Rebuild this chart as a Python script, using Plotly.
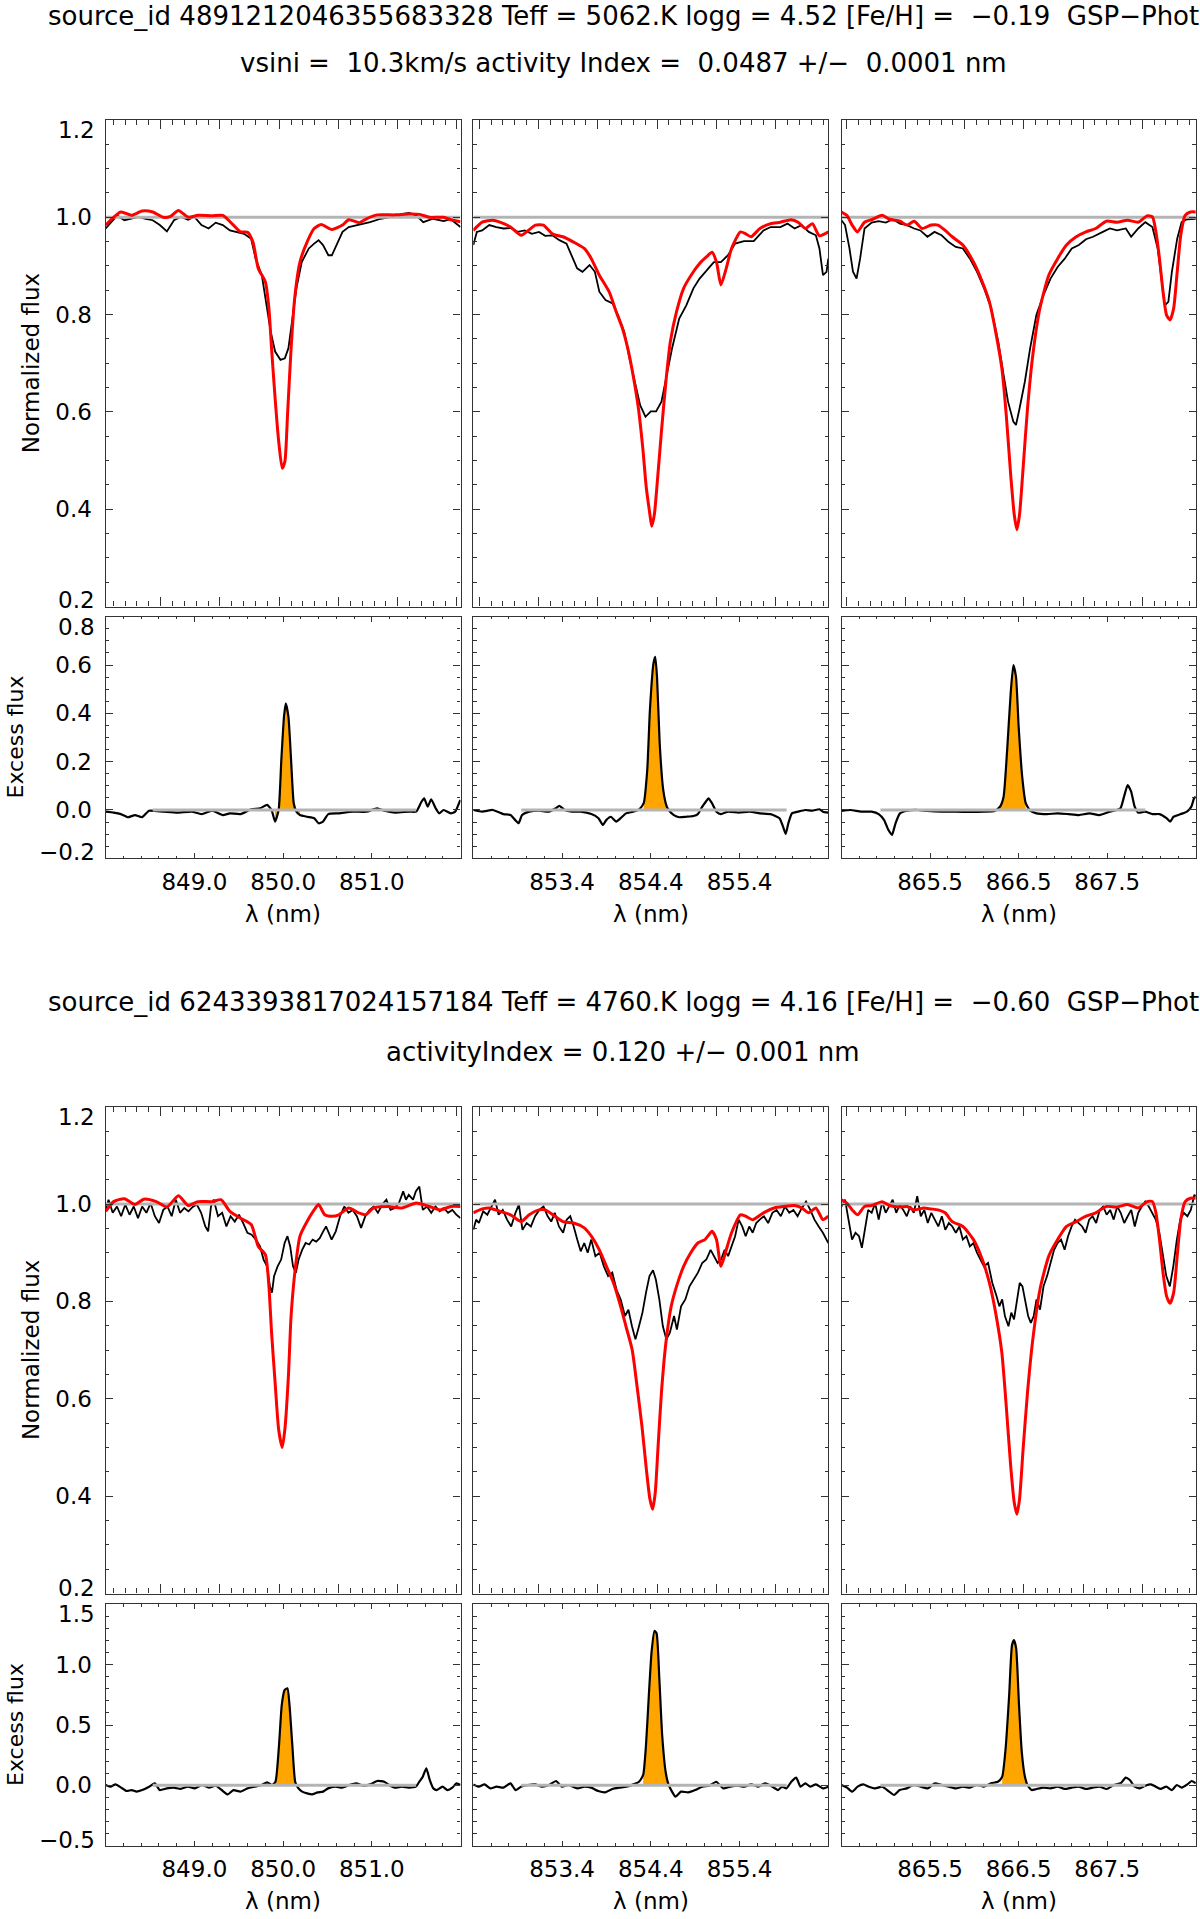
import plotly.graph_objects as go

# ------------------------------------------------------------------ headers
top_title = "source_id 4891212046355683328 Teff = 5062.K logg = 4.52 [Fe/H] =  −0.19  GSP−Phot"
top_subtitle = "vsini =  10.3km/s activity Index =  0.0487 +/−  0.0001 nm"
bot_title = "source_id 6243393817024157184 Teff = 4760.K logg = 4.16 [Fe/H] =  −0.60  GSP−Phot"
bot_subtitle = "activityIndex = 0.120 +/− 0.001 nm"

# ------------------------------------------------------------------ axes data
line_ranges = [[848.0, 852.0], [852.4, 856.4], [864.5, 868.5]]
line_ticks = [[849.0, 850.0, 851.0], [853.4, 854.4, 855.4], [865.5, 866.5, 867.5]]
flux_tick0 = [847.952, 852.467, 864.556]
flux_dtick = 0.668
core_windows = [[849.88, 850.19], [854.30, 854.60], [866.28, 866.60]]
zero_windows = [[848.53, 851.50], [852.94, 855.93], [864.94, 867.93]]
flux_range = [0.2, 1.2]
flux_ticks = [0.2, 0.4, 0.6, 0.8, 1.0, 1.2]
top_exc_range = [-0.2, 0.8]
top_exc_ticks = [-0.2, 0.0, 0.2, 0.4, 0.6, 0.8]
bot_exc_range = [-0.5, 1.5]
bot_exc_ticks = [-0.5, 0.0, 0.5, 1.0, 1.5]

# ------------------------------------------------------------------ star 1 (top)
top_850_model_wl = [848.00, 848.17, 848.29, 848.41, 848.53, 848.65, 848.73, 848.82, 848.93, 849.04,
                    849.20, 849.32, 849.44, 849.52, 849.60, 849.66, 849.72, 849.80, 849.84, 849.87,
                    849.91, 849.95, 849.99, 850.02, 850.05, 850.09, 850.13, 850.19, 850.27, 850.35,
                    850.43, 850.55, 850.67, 850.74, 850.86, 850.94, 851.06, 851.26, 851.42, 851.54,
                    851.65, 851.81, 851.89, 852.00]
top_850_model = [0.984, 1.011, 1.004, 1.013, 1.011, 1.000, 1.002, 1.014, 1.000, 1.004,
                 1.003, 1.004, 0.984, 0.970, 0.969, 0.949, 0.895, 0.867, 0.813, 0.730,
                 0.628, 0.540, 0.484, 0.498, 0.594, 0.730, 0.833, 0.908, 0.949, 0.977,
                 0.985, 0.975, 0.984, 0.995, 0.989, 0.997, 1.005, 1.005, 1.007, 1.006,
                 1.000, 1.000, 0.995, 0.991]
top_850_obs_wl = [848.00, 848.06, 848.13, 848.21, 848.29, 848.37, 848.45, 848.53, 848.61, 848.69,
                  848.77, 848.85, 848.93, 849.00, 849.08, 849.16, 849.24, 849.32, 849.40, 849.48,
                  849.56, 849.64, 849.69, 849.76, 849.81, 849.86, 849.91, 849.97, 850.02, 850.06,
                  850.10, 850.15, 850.21, 850.29, 850.35, 850.40, 850.45, 850.51, 850.55, 850.60,
                  850.67, 850.74, 850.86, 850.98, 851.10, 851.22, 851.35, 851.42, 851.50, 851.58,
                  851.69, 851.81, 851.89, 851.95, 852.00]
top_850_obs = [0.977, 0.990, 1.004, 0.994, 0.997, 1.001, 0.997, 0.994, 0.984, 0.971,
               0.994, 1.001, 0.995, 1.001, 0.984, 0.977, 0.989, 0.984, 0.973, 0.970,
               0.966, 0.956, 0.915, 0.881, 0.819, 0.765, 0.724, 0.707, 0.710, 0.731,
               0.785, 0.854, 0.908, 0.936, 0.946, 0.953, 0.943, 0.922, 0.922, 0.943,
               0.970, 0.980, 0.985, 0.990, 0.997, 1.001, 1.007, 1.009, 1.004, 0.990,
               0.997, 0.992, 0.996, 0.987, 0.980]
top_850_exc_wl = [848.00, 848.09, 848.17, 848.25, 848.33, 848.41, 848.49, 848.65, 848.81, 848.97,
                  849.08, 849.20, 849.32, 849.40, 849.52, 849.64, 849.74, 849.82, 849.87, 849.91,
                  849.95, 849.98, 850.01, 850.03, 850.06, 850.09, 850.12, 850.15, 850.19, 850.27,
                  850.35, 850.40, 850.45, 850.51, 850.63, 850.78, 850.94, 851.06, 851.14, 851.26,
                  851.42, 851.50, 851.56, 851.59, 851.63, 851.67, 851.72, 851.76, 851.81, 851.89,
                  851.94, 851.99, 852.00]
top_850_exc = [-0.007, -0.011, -0.017, -0.030, -0.021, -0.030, -0.003, -0.007, -0.011, -0.007,
               -0.017, -0.003, -0.021, -0.014, -0.017, 0.003, 0.007, 0.021, 0.000, -0.048,
               0.000, 0.207, 0.386, 0.441, 0.386, 0.207, 0.028, -0.007, -0.021, -0.028,
               -0.034, -0.055, -0.048, -0.017, -0.014, -0.007, -0.007, 0.007, -0.003, -0.011,
               -0.007, -0.007, 0.034, 0.048, 0.014, 0.044, 0.007, -0.014, 0.000, -0.014,
               -0.007, 0.034, 0.041]

top_854_model_wl = [852.40, 852.50, 852.62, 852.70, 852.82, 852.94, 853.02, 853.10, 853.19, 853.29,
                    853.41, 853.53, 853.65, 853.73, 853.82, 853.93, 854.01, 854.08, 854.14, 854.20,
                    854.26, 854.31, 854.35, 854.39, 854.41, 854.44, 854.48, 854.52, 854.57, 854.62,
                    854.69, 854.77, 854.88, 854.95, 855.03, 855.09, 855.14, 855.19, 855.25, 855.31,
                    855.41, 855.47, 855.53, 855.63, 855.75, 855.86, 855.98, 856.06, 856.14, 856.22,
                    856.30, 856.40]
top_854_model = [0.973, 0.990, 0.994, 0.990, 0.980, 0.963, 0.973, 0.984, 0.984, 0.966,
                 0.960, 0.949, 0.936, 0.915, 0.881, 0.847, 0.806, 0.772, 0.731, 0.676,
                 0.608, 0.525, 0.443, 0.389, 0.365, 0.389, 0.471, 0.560, 0.662, 0.744,
                 0.806, 0.854, 0.888, 0.905, 0.919, 0.928, 0.908, 0.861, 0.895, 0.936,
                 0.970, 0.966, 0.960, 0.977, 0.987, 0.990, 0.995, 0.990, 0.977, 0.987,
                 0.962, 0.970]
top_854_obs_wl = [852.40, 852.44, 852.50, 852.58, 852.66, 852.74, 852.82, 852.90, 852.98, 853.06,
                  853.14, 853.21, 853.29, 853.37, 853.45, 853.51, 853.57, 853.63, 853.71, 853.77,
                  853.82, 853.89, 853.97, 854.03, 854.10, 854.16, 854.22, 854.28, 854.34, 854.40,
                  854.46, 854.52, 854.58, 854.64, 854.72, 854.80, 854.88, 854.95, 855.03, 855.11,
                  855.19, 855.27, 855.35, 855.45, 855.56, 855.67, 855.75, 855.86, 855.94, 856.02,
                  856.10, 856.18, 856.26, 856.30, 856.34, 856.38, 856.40]
top_854_obs = [0.943, 0.970, 0.973, 0.984, 0.980, 0.977, 0.978, 0.970, 0.973, 0.966,
               0.970, 0.962, 0.963, 0.953, 0.946, 0.922, 0.895, 0.888, 0.902, 0.888,
               0.847, 0.830, 0.823, 0.799, 0.765, 0.710, 0.662, 0.614, 0.590, 0.601,
               0.601, 0.621, 0.676, 0.731, 0.792, 0.819, 0.854, 0.874, 0.891, 0.908,
               0.908, 0.922, 0.946, 0.951, 0.951, 0.973, 0.980, 0.980, 0.987, 0.977,
               0.984, 0.970, 0.963, 0.936, 0.881, 0.888, 0.915]
top_854_exc_wl = [852.40, 852.50, 852.62, 852.74, 852.82, 852.87, 852.91, 852.95, 853.03, 853.14,
                  853.25, 853.33, 853.37, 853.43, 853.51, 853.61, 853.73, 853.81, 853.86, 853.90,
                  853.95, 854.01, 854.06, 854.12, 854.20, 854.27, 854.32, 854.36, 854.39, 854.43,
                  854.45, 854.47, 854.50, 854.54, 854.58, 854.61, 854.66, 854.72, 854.80, 854.88,
                  854.93, 854.98, 855.02, 855.05, 855.09, 855.14, 855.19, 855.27, 855.39, 855.51,
                  855.63, 855.75, 855.85, 855.89, 855.92, 855.95, 855.99, 856.06, 856.14, 856.22,
                  856.30, 856.34, 856.40]
top_854_exc = [0.000, -0.007, 0.000, -0.017, -0.021, -0.041, -0.055, -0.021, -0.007, -0.003,
               -0.007, 0.007, 0.017, 0.000, -0.007, -0.007, -0.017, -0.034, -0.062, -0.041,
               -0.028, -0.048, -0.034, -0.014, -0.007, 0.003, 0.028, 0.166, 0.414, 0.607,
               0.634, 0.552, 0.276, 0.083, 0.014, -0.004, -0.021, -0.030, -0.028, -0.025,
               -0.017, 0.014, 0.034, 0.048, 0.028, -0.007, -0.017, -0.007, -0.011, -0.007,
               -0.014, -0.017, -0.034, -0.069, -0.099, -0.055, -0.014, -0.007, 0.000, -0.003,
               0.003, -0.007, -0.011]

top_866_model_wl = [864.50, 864.56, 864.62, 864.68, 864.76, 864.84, 864.96, 865.04, 865.16, 865.24,
                    865.32, 865.41, 865.51, 865.59, 865.67, 865.75, 865.87, 865.99, 866.09, 866.17,
                    866.24, 866.31, 866.36, 866.41, 866.45, 866.48, 866.51, 866.55, 866.60, 866.66,
                    866.74, 866.84, 866.94, 867.04, 867.15, 867.26, 867.37, 867.49, 867.61, 867.73,
                    867.85, 867.95, 868.01, 868.05, 868.09, 868.13, 868.17, 868.21, 868.25, 868.29,
                    868.33, 868.38, 868.44, 868.50]
top_866_model = [1.011, 1.004, 0.984, 0.970, 0.990, 0.995, 1.004, 0.996, 0.992, 0.984,
                 0.992, 0.977, 0.984, 0.984, 0.973, 0.960, 0.943, 0.908, 0.867, 0.826,
                 0.765, 0.690, 0.594, 0.471, 0.389, 0.358, 0.389, 0.484, 0.607, 0.717,
                 0.813, 0.881, 0.915, 0.943, 0.960, 0.970, 0.977, 0.992, 0.990, 0.994,
                 0.990, 1.003, 1.001, 0.970, 0.915, 0.847, 0.799, 0.789, 0.813, 0.888,
                 0.963, 1.004, 1.011, 1.011]
top_866_obs_wl = [864.50, 864.54, 864.59, 864.63, 864.67, 864.71, 864.76, 864.84, 864.92, 865.00,
                  865.08, 865.16, 865.24, 865.32, 865.39, 865.47, 865.55, 865.63, 865.71, 865.79,
                  865.87, 865.95, 866.03, 866.11, 866.19, 866.27, 866.33, 866.38, 866.44, 866.47,
                  866.51, 866.57, 866.63, 866.70, 866.78, 866.86, 866.94, 867.02, 867.10, 867.18,
                  867.26, 867.34, 867.45, 867.53, 867.61, 867.71, 867.77, 867.85, 867.93, 868.01,
                  868.07, 868.12, 868.15, 868.19, 868.23, 868.29, 868.34, 868.40, 868.50]
top_866_obs = [0.994, 0.984, 0.936, 0.888, 0.874, 0.915, 0.977, 0.989, 0.992, 0.989,
               0.996, 0.987, 0.984, 0.977, 0.973, 0.960, 0.970, 0.963, 0.949, 0.939,
               0.936, 0.915, 0.888, 0.854, 0.813, 0.744, 0.676, 0.621, 0.580, 0.573,
               0.607, 0.662, 0.731, 0.799, 0.840, 0.874, 0.898, 0.915, 0.936, 0.943,
               0.955, 0.960, 0.970, 0.977, 0.973, 0.977, 0.960, 0.977, 0.990, 0.980,
               0.936, 0.867, 0.819, 0.826, 0.888, 0.956, 0.990, 0.996, 0.997]
top_866_exc_wl = [864.50, 864.60, 864.72, 864.84, 864.92, 864.98, 865.03, 865.07, 865.11, 865.16,
                  865.24, 865.36, 865.47, 865.63, 865.79, 865.95, 866.11, 866.23, 866.29, 866.33,
                  866.37, 866.41, 866.44, 866.47, 866.50, 866.54, 866.58, 866.63, 866.70, 866.82,
                  866.94, 867.06, 867.18, 867.30, 867.41, 867.53, 867.61, 867.65, 867.69, 867.73,
                  867.77, 867.81, 867.85, 867.93, 868.01, 868.09, 868.17, 868.21, 868.25, 868.33,
                  868.40, 868.45, 868.48, 868.50]
top_866_exc = [-0.004, 0.000, -0.007, -0.007, -0.017, -0.041, -0.083, -0.103, -0.055, -0.014,
               -0.003, 0.000, -0.004, -0.007, -0.007, -0.008, -0.007, -0.004, 0.014, 0.055,
               0.248, 0.483, 0.600, 0.552, 0.345, 0.138, 0.028, -0.003, -0.014, -0.017,
               -0.014, -0.017, -0.021, -0.014, -0.021, -0.007, 0.000, 0.007, 0.055, 0.103,
               0.076, 0.014, -0.011, -0.007, -0.017, -0.017, -0.034, -0.048, -0.028, -0.017,
               -0.007, 0.014, 0.048, 0.055]

# ------------------------------------------------------------------ star 2 (bottom)
bot_850_model_wl = [848.00, 848.09, 848.21, 848.33, 848.43, 848.57, 848.69, 848.82, 848.93, 849.04,
                    849.20, 849.30, 849.40, 849.52, 849.64, 849.72, 849.80, 849.84, 849.87, 849.91,
                    849.95, 849.99, 850.02, 850.06, 850.09, 850.14, 850.19, 850.27, 850.35, 850.40,
                    850.47, 850.55, 850.63, 850.74, 850.85, 850.93, 851.02, 851.18, 851.34, 851.50,
                    851.65, 851.77, 851.89, 852.00]
bot_850_model = [0.985, 1.005, 1.011, 0.999, 1.010, 1.005, 0.994, 1.017, 0.997, 1.005,
                 1.005, 1.009, 0.985, 0.971, 0.958, 0.913, 0.896, 0.831, 0.736, 0.633,
                 0.537, 0.500, 0.537, 0.647, 0.770, 0.872, 0.934, 0.964, 0.988, 0.999,
                 0.978, 0.975, 0.978, 0.992, 0.982, 0.978, 0.992, 0.995, 0.992, 1.002,
                 0.995, 0.988, 0.995, 0.995]
bot_850_obs_wl = [848.000, 848.032, 848.079, 848.127, 848.174, 848.221, 848.269, 848.316, 848.364, 848.411,
                  848.459, 848.506, 848.554, 848.601, 848.649, 848.696, 848.744, 848.791, 848.838, 848.886,
                  848.933, 848.981, 849.028, 849.076, 849.123, 849.155, 849.187, 849.218, 849.266, 849.313,
                  849.361, 849.408, 849.455, 849.503, 849.550, 849.598, 849.645, 849.693, 849.740, 849.780,
                  849.819, 849.851, 849.875, 849.898, 849.938, 849.978, 850.017, 850.049, 850.080, 850.112,
                  850.144, 850.175, 850.215, 850.254, 850.294, 850.333, 850.373, 850.413, 850.452, 850.484,
                  850.515, 850.547, 850.594, 850.642, 850.689, 850.737, 850.784, 850.832, 850.879, 850.927,
                  850.974, 851.022, 851.069, 851.117, 851.164, 851.211, 851.259, 851.306, 851.354, 851.385,
                  851.417, 851.465, 851.496, 851.536, 851.575, 851.623, 851.670, 851.718, 851.765, 851.813,
                  851.860, 851.908, 851.955, 852.000]
bot_850_obs = [0.988, 1.009, 0.982, 0.995, 0.975, 0.999, 0.978, 0.995, 0.971, 0.995,
               0.982, 1.002, 0.975, 0.961, 0.988, 0.995, 0.975, 1.009, 0.982, 0.992,
               0.985, 0.994, 0.999, 0.982, 0.954, 0.944, 0.995, 1.009, 0.975, 0.982,
               0.954, 0.975, 0.964, 0.978, 0.961, 0.941, 0.937, 0.927, 0.913, 0.886,
               0.872, 0.831, 0.818, 0.852, 0.872, 0.886, 0.920, 0.934, 0.913, 0.872,
               0.859, 0.886, 0.906, 0.920, 0.917, 0.927, 0.923, 0.930, 0.944, 0.954,
               0.941, 0.927, 0.944, 0.975, 0.995, 0.982, 0.988, 0.975, 0.951, 0.975,
               0.988, 0.995, 0.982, 0.999, 1.009, 0.988, 0.992, 1.002, 1.026, 1.009,
               1.019, 1.009, 1.026, 1.036, 0.988, 0.995, 0.982, 0.995, 0.985, 0.992,
               0.982, 0.988, 0.978, 0.971]
bot_850_exc_wl = [848.000, 848.055, 848.111, 848.174, 848.237, 848.293, 848.348, 848.411, 848.490, 848.554,
                  848.609, 848.688, 848.767, 848.846, 848.925, 849.005, 849.084, 849.163, 849.242, 849.321,
                  849.376, 849.440, 849.519, 849.598, 849.677, 849.756, 849.819, 849.875, 849.914, 849.954,
                  849.985, 850.017, 850.049, 850.072, 850.104, 850.136, 850.167, 850.215, 850.270, 850.326,
                  850.389, 850.452, 850.507, 850.587, 850.666, 850.745, 850.824, 850.903, 850.982, 851.061,
                  851.140, 851.196, 851.259, 851.338, 851.417, 851.496, 851.536, 851.575, 851.615, 851.654,
                  851.694, 851.734, 851.797, 851.852, 851.908, 851.955, 852.000]
bot_850_exc = [0.003, -0.011, 0.008, -0.019, -0.047, -0.039, -0.052, -0.039, -0.011, 0.017,
               -0.039, -0.025, -0.019, -0.030, -0.011, -0.025, 0.003, -0.019, -0.003, -0.047,
               -0.075, -0.039, -0.052, -0.025, -0.011, 0.003, 0.025, 0.003, 0.030, 0.334,
               0.666, 0.790, 0.804, 0.666, 0.334, 0.030, -0.019, -0.052, -0.066, -0.075,
               -0.058, -0.052, -0.025, -0.011, -0.019, 0.003, 0.017, -0.003, 0.008, 0.036,
               0.030, 0.003, -0.019, -0.011, -0.019, -0.011, 0.030, 0.072, 0.141, 0.044,
               -0.025, -0.039, -0.011, -0.039, -0.019, 0.017, 0.003]

bot_854_model_wl = [852.40, 852.50, 852.58, 852.70, 852.82, 852.94, 853.03, 853.14, 853.21, 853.32,
                    853.41, 853.53, 853.65, 853.73, 853.82, 853.90, 853.98, 854.06, 854.12, 854.19,
                    854.24, 854.30, 854.35, 854.39, 854.42, 854.45, 854.48, 854.52, 854.57, 854.63,
                    854.69, 854.77, 854.85, 854.93, 855.01, 855.09, 855.14, 855.19, 855.25, 855.31,
                    855.41, 855.47, 855.55, 855.67, 855.79, 855.90, 856.02, 856.10, 856.18, 856.26,
                    856.34, 856.40]
bot_854_model = [0.982, 0.990, 0.992, 0.985, 0.978, 0.964, 0.978, 0.988, 0.988, 0.975,
                 0.964, 0.961, 0.951, 0.934, 0.906, 0.872, 0.838, 0.790, 0.749, 0.701,
                 0.633, 0.544, 0.455, 0.394, 0.373, 0.407, 0.496, 0.613, 0.715, 0.790,
                 0.831, 0.872, 0.900, 0.920, 0.927, 0.944, 0.927, 0.872, 0.906, 0.941,
                 0.978, 0.975, 0.968, 0.982, 0.992, 0.995, 0.997, 0.992, 0.982, 0.992,
                 0.968, 0.975]
bot_854_obs_wl = [852.400, 852.432, 852.463, 852.511, 852.558, 852.606, 852.645, 852.685, 852.732, 852.780,
                  852.827, 852.875, 852.914, 852.954, 853.001, 853.049, 853.096, 853.144, 853.191, 853.238,
                  853.278, 853.318, 853.365, 853.412, 853.452, 853.492, 853.531, 853.571, 853.610, 853.650,
                  853.689, 853.729, 853.776, 853.824, 853.871, 853.919, 853.966, 854.014, 854.061, 854.109,
                  854.148, 854.188, 854.227, 854.267, 854.306, 854.346, 854.385, 854.425, 854.457, 854.496,
                  854.536, 854.575, 854.615, 854.662, 854.694, 854.741, 854.789, 854.836, 854.884, 854.931,
                  854.979, 855.026, 855.074, 855.113, 855.153, 855.192, 855.232, 855.271, 855.311, 855.350,
                  855.390, 855.430, 855.469, 855.509, 855.548, 855.588, 855.627, 855.675, 855.722, 855.770,
                  855.817, 855.865, 855.912, 855.960, 856.007, 856.054, 856.102, 856.149, 856.197, 856.244,
                  856.292, 856.339, 856.400]
bot_854_obs = [0.947, 0.968, 0.961, 0.985, 0.978, 0.995, 1.009, 0.978, 0.988, 0.968,
               0.954, 0.982, 0.999, 0.947, 0.961, 0.954, 0.975, 0.988, 0.995, 0.975,
               0.964, 0.982, 0.954, 0.941, 0.968, 0.975, 0.954, 0.927, 0.903, 0.920,
               0.900, 0.927, 0.893, 0.900, 0.872, 0.852, 0.859, 0.824, 0.804, 0.770,
               0.783, 0.749, 0.722, 0.749, 0.777, 0.818, 0.852, 0.864, 0.845, 0.804,
               0.749, 0.722, 0.736, 0.770, 0.742, 0.790, 0.804, 0.831, 0.845, 0.859,
               0.879, 0.886, 0.906, 0.893, 0.879, 0.886, 0.906, 0.893, 0.913, 0.934,
               0.968, 0.954, 0.934, 0.954, 0.941, 0.961, 0.968, 0.975, 0.961, 0.982,
               0.988, 0.975, 0.995, 0.982, 0.988, 0.975, 0.992, 1.005, 0.988, 0.968,
               0.954, 0.941, 0.920]
bot_854_exc_wl = [852.400, 852.463, 852.527, 852.590, 852.661, 852.740, 852.819, 852.875, 852.938, 853.017,
                  853.096, 853.175, 853.254, 853.333, 853.397, 853.476, 853.571, 853.650, 853.729, 853.808,
                  853.887, 853.966, 854.045, 854.124, 854.203, 854.267, 854.314, 854.346, 854.378, 854.409,
                  854.441, 854.465, 854.496, 854.528, 854.567, 854.599, 854.639, 854.678, 854.741, 854.820,
                  854.900, 854.979, 855.058, 855.137, 855.216, 855.295, 855.374, 855.453, 855.532, 855.611,
                  855.691, 855.770, 855.833, 855.880, 855.928, 855.983, 856.039, 856.086, 856.141, 856.197,
                  856.260, 856.339, 856.400]
bot_854_exc = [0.008, -0.011, 0.008, -0.025, -0.011, -0.019, 0.017, -0.039, -0.011, 0.003,
               0.008, -0.011, 0.003, 0.036, -0.011, 0.003, -0.025, -0.011, -0.019, -0.047,
               -0.058, -0.030, -0.019, -0.011, 0.008, 0.030, 0.086, 0.334, 0.749, 1.108,
               1.279, 1.260, 0.887, 0.417, 0.113, 0.008, -0.052, -0.094, -0.052, -0.058,
               -0.039, -0.011, -0.003, 0.030, -0.025, -0.011, -0.003, -0.011, 0.008, -0.011,
               0.017, -0.011, -0.039, -0.011, -0.025, 0.030, 0.064, -0.011, 0.017, -0.011,
               0.008, -0.025, -0.011]

bot_866_model_wl = [864.50, 864.56, 864.62, 864.68, 864.76, 864.84, 864.96, 865.04, 865.16, 865.24,
                    865.32, 865.43, 865.51, 865.59, 865.67, 865.75, 865.87, 865.99, 866.09, 866.17,
                    866.24, 866.31, 866.36, 866.41, 866.45, 866.48, 866.51, 866.55, 866.60, 866.66,
                    866.74, 866.84, 866.94, 867.04, 867.15, 867.26, 867.37, 867.49, 867.61, 867.73,
                    867.85, 867.95, 868.01, 868.05, 868.09, 868.13, 868.17, 868.21, 868.25, 868.29,
                    868.33, 868.38, 868.44, 868.50]
bot_866_model = [1.009, 1.002, 0.988, 0.978, 0.995, 0.997, 1.005, 0.997, 0.994, 0.995,
                 0.988, 0.992, 0.990, 0.988, 0.982, 0.964, 0.954, 0.927, 0.886, 0.838,
                 0.777, 0.695, 0.585, 0.462, 0.387, 0.363, 0.394, 0.496, 0.613, 0.722,
                 0.824, 0.893, 0.927, 0.954, 0.964, 0.975, 0.982, 0.995, 0.994, 0.999,
                 0.992, 1.005, 1.005, 0.982, 0.927, 0.859, 0.811, 0.796, 0.818, 0.893,
                 0.968, 1.005, 1.012, 1.012]
bot_866_obs_wl = [864.500, 864.540, 864.579, 864.619, 864.658, 864.698, 864.730, 864.761, 864.801, 864.841,
                  864.880, 864.920, 864.959, 864.999, 865.039, 865.078, 865.118, 865.157, 865.197, 865.237,
                  865.276, 865.316, 865.355, 865.395, 865.435, 865.474, 865.514, 865.553, 865.593, 865.633,
                  865.672, 865.712, 865.751, 865.791, 865.831, 865.870, 865.910, 865.949, 865.989, 866.029,
                  866.068, 866.108, 866.155, 866.203, 866.250, 866.282, 866.314, 866.345, 866.385, 866.417,
                  866.448, 866.480, 866.512, 866.543, 866.575, 866.607, 866.638, 866.670, 866.702, 866.741,
                  866.781, 866.821, 866.860, 866.900, 866.939, 866.979, 867.019, 867.058, 867.098, 867.137,
                  867.177, 867.217, 867.256, 867.296, 867.335, 867.375, 867.415, 867.454, 867.494, 867.533,
                  867.573, 867.613, 867.652, 867.692, 867.731, 867.771, 867.811, 867.850, 867.890, 867.929,
                  867.969, 868.009, 868.048, 868.088, 868.127, 868.167, 868.207, 868.246, 868.286, 868.325,
                  868.365, 868.405, 868.444, 868.484, 868.500]
bot_866_obs = [0.995, 1.009, 0.968, 0.927, 0.941, 0.934, 0.910, 0.941, 0.988, 0.982,
               1.002, 0.968, 1.005, 0.982, 0.995, 1.009, 0.982, 0.999, 0.988, 0.975,
               0.995, 0.982, 1.016, 0.975, 0.988, 0.961, 0.982, 0.968, 0.954, 0.975,
               0.947, 0.961, 0.954, 0.941, 0.954, 0.927, 0.934, 0.913, 0.920, 0.900,
               0.886, 0.872, 0.879, 0.838, 0.811, 0.790, 0.804, 0.770, 0.749, 0.777,
               0.763, 0.804, 0.838, 0.831, 0.804, 0.770, 0.756, 0.770, 0.804, 0.783,
               0.831, 0.852, 0.879, 0.906, 0.920, 0.927, 0.906, 0.934, 0.954, 0.968,
               0.961, 0.954, 0.941, 0.968, 0.975, 0.961, 0.988, 0.995, 0.978, 0.988,
               0.968, 0.995, 0.982, 0.961, 0.975, 0.988, 0.954, 0.982, 0.995, 1.005,
               0.995, 0.982, 0.968, 0.941, 0.893, 0.852, 0.831, 0.872, 0.927, 0.968,
               0.982, 0.975, 0.988, 1.019, 1.016]
bot_866_exc_wl = [864.500, 864.563, 864.619, 864.682, 864.746, 864.809, 864.880, 864.959, 865.039, 865.094,
                  865.157, 865.237, 865.316, 865.395, 865.474, 865.553, 865.633, 865.712, 865.791, 865.870,
                  865.949, 866.029, 866.108, 866.187, 866.266, 866.314, 866.353, 866.393, 866.425, 866.448,
                  866.472, 866.504, 866.535, 866.567, 866.599, 866.646, 866.702, 866.781, 866.860, 866.939,
                  867.019, 867.098, 867.177, 867.256, 867.335, 867.415, 867.494, 867.573, 867.652, 867.708,
                  867.755, 867.811, 867.866, 867.929, 867.993, 868.048, 868.104, 868.167, 868.230, 868.286,
                  868.341, 868.405, 868.452, 868.500]
bot_866_exc = [0.003, -0.019, -0.052, -0.011, 0.008, -0.011, -0.025, -0.011, -0.052, -0.080,
               -0.039, -0.025, 0.003, -0.011, -0.025, 0.017, 0.003, -0.011, -0.025, -0.011,
               -0.019, 0.003, -0.011, 0.017, 0.030, 0.072, 0.307, 0.749, 1.163, 1.204,
               1.135, 0.666, 0.279, 0.086, 0.003, -0.039, -0.030, -0.019, -0.025, -0.011,
               -0.030, -0.019, -0.011, -0.030, -0.019, -0.011, -0.030, 0.003, 0.017, 0.064,
               0.044, -0.011, -0.025, -0.003, 0.008, -0.011, -0.030, -0.011, -0.039, 0.003,
               -0.019, 0.008, 0.036, 0.017]

# ------------------------------------------------------------------ page geometry / style
W, H = 1200, 1919
FONT = "DejaVu Sans"
TICK_SIZE = 23
TITLE_SIZE = 26
FRAME = "#333333"
GRAY = "#b4b4b4"
ORANGE = "#ffa500"

col_px = [(105.7, 460.5), (473.3, 828.3), (841.5, 1195.8)]


def xdom(a, b):
    return [a / W, b / W]


def ydom(top, bottom):
    return [1 - bottom / H, 1 - top / H]


def nbsp(s):
    return s.replace(" ", "\u00a0")


def label(v):
    return f"{v:.1f}".replace("-", "−")


stars = [
    dict(title=top_title, subtitle=top_subtitle, title_y=16, subtitle_y=63,
         flux_px=(120.0, 606.5), exc_px=(616.7, 858.3), xlabel_y=914,
         exc_range=top_exc_range, exc_ticks=top_exc_ticks, exc_minor=0.05,
         obs=[(top_850_obs_wl, top_850_obs), (top_854_obs_wl, top_854_obs), (top_866_obs_wl, top_866_obs)],
         model=[(top_850_model_wl, top_850_model), (top_854_model_wl, top_854_model),
                (top_866_model_wl, top_866_model)],
         exc=[(top_850_exc_wl, top_850_exc), (top_854_exc_wl, top_854_exc), (top_866_exc_wl, top_866_exc)]),
    dict(title=bot_title, subtitle=bot_subtitle, title_y=1002, subtitle_y=1052,
         flux_px=(1106.7, 1593.5), exc_px=(1604.3, 1845.7), xlabel_y=1901,
         exc_range=bot_exc_range, exc_ticks=bot_exc_ticks, exc_minor=0.1,
         obs=[(bot_850_obs_wl, bot_850_obs), (bot_854_obs_wl, bot_854_obs), (bot_866_obs_wl, bot_866_obs)],
         model=[(bot_850_model_wl, bot_850_model), (bot_854_model_wl, bot_854_model),
                (bot_866_model_wl, bot_866_model)],
         exc=[(bot_850_exc_wl, bot_850_exc), (bot_854_exc_wl, bot_854_exc), (bot_866_exc_wl, bot_866_exc)]),
]

tick_font = dict(family=FONT, size=TICK_SIZE, color="black")
title_font = dict(family=FONT, size=TITLE_SIZE, color="black")
side_font = dict(family=FONT, size=22, color="black")

common = dict(showline=True, linecolor=FRAME, linewidth=1.3, mirror="ticks", ticks="inside",
              tickcolor=FRAME, tickwidth=1.2, showgrid=False, zeroline=False, fixedrange=True,
              tickfont=tick_font)

fig = go.Figure()
layout = {}
annotations = []


def add_edge_labels(yref, rng, x_left):
    # IDL nudges the end labels inside the frame
    annotations.append(dict(text=label(rng[1]), x=x_left, y=rng[1], xref="paper", yref=yref,
                            xanchor="right", yanchor="middle", xshift=-9, yshift=-10,
                            showarrow=False, font=tick_font))
    annotations.append(dict(text=label(rng[0]), x=x_left, y=rng[0], xref="paper", yref=yref,
                            xanchor="right", yanchor="middle", xshift=-9, yshift=6,
                            showarrow=False, font=tick_font))


n = 0
for s in stars:
    # ---------------- flux row
    for j in range(3):
        n += 1
        xr, yr = ("x", "y") if n == 1 else (f"x{n}", f"y{n}")
        ow, ov = s["obs"][j]
        mw, mv = s["model"][j]
        fig.add_trace(go.Scatter(x=ow, y=ov, mode="lines", line=dict(color="black", width=1.8),
                                 xaxis=xr, yaxis=yr, hoverinfo="skip"))
        fig.add_trace(go.Scatter(x=line_ranges[j], y=[1.0, 1.0], mode="lines",
                                 line=dict(color=GRAY, width=3), xaxis=xr, yaxis=yr, hoverinfo="skip"))
        fig.add_trace(go.Scatter(x=mw, y=mv, mode="lines",
                                 line=dict(color="red", width=3, shape="spline", smoothing=0.6),
                                 xaxis=xr, yaxis=yr, hoverinfo="skip"))
        layout["xaxis" if n == 1 else f"xaxis{n}"] = dict(
            common, domain=xdom(*col_px[j]), range=line_ranges[j], anchor=yr,
            tick0=flux_tick0[j], dtick=flux_dtick, ticklen=9, showticklabels=False,
            minor=dict(ticks="inside", ticklen=5, tick0=flux_tick0[j], dtick=flux_dtick / 5,
                       tickcolor=FRAME, showgrid=False))
        layout["yaxis" if n == 1 else f"yaxis{n}"] = dict(
            common, domain=ydom(*s["flux_px"]), range=flux_range, anchor=xr,
            tickmode="array", tickvals=flux_ticks,
            ticktext=["" if v in flux_range else label(v) for v in flux_ticks],
            ticklen=7, showticklabels=(j == 0), ticklabelstandoff=8,
            minor=dict(ticks="inside", ticklen=3.5, tick0=0, dtick=0.05, tickcolor=FRAME, showgrid=False))
        if j == 0:
            add_edge_labels(yr, flux_range, col_px[0][0] / W)
    # ---------------- excess row
    for j in range(3):
        n += 1
        xr, yr = f"x{n}", f"y{n}"
        ew, ev = s["exc"][j]
        lo, hi = core_windows[j]
        cw = [w for w in ew if lo <= w <= hi]
        cv = [v for w, v in zip(ew, ev) if lo <= w <= hi]
        fig.add_trace(go.Scatter(x=cw, y=cv, mode="lines",
                                 line=dict(width=0, color=ORANGE, shape="spline", smoothing=0.5),
                                 fill="tozeroy", fillcolor=ORANGE, xaxis=xr, yaxis=yr, hoverinfo="skip"))
        fig.add_trace(go.Scatter(x=ew, y=ev, mode="lines",
                                 line=dict(color="black", width=2.2, shape="spline", smoothing=0.5),
                                 xaxis=xr, yaxis=yr, hoverinfo="skip"))
        fig.add_trace(go.Scatter(x=zero_windows[j], y=[0.0, 0.0], mode="lines",
                                 line=dict(color=GRAY, width=3), xaxis=xr, yaxis=yr, hoverinfo="skip"))
        layout[f"xaxis{n}"] = dict(
            common, domain=xdom(*col_px[j]), range=line_ranges[j], anchor=yr,
            tickmode="array", tickvals=line_ticks[j], ticktext=[label(v) for v in line_ticks[j]],
            ticklen=5, ticklabelstandoff=3,
            minor=dict(ticks="inside", ticklen=2.5, tick0=line_ranges[j][0], dtick=0.2,
                       tickcolor=FRAME, showgrid=False))
        rng = s["exc_range"]
        layout[f"yaxis{n}"] = dict(
            common, domain=ydom(*s["exc_px"]), range=rng, anchor=xr,
            tickmode="array", tickvals=s["exc_ticks"],
            ticktext=["" if v in rng else label(v) for v in s["exc_ticks"]],
            ticklen=7, showticklabels=(j == 0), ticklabelstandoff=8,
            minor=dict(ticks="inside", ticklen=3.5, tick0=0, dtick=s["exc_minor"], tickcolor=FRAME,
                       showgrid=False))
        if j == 0:
            add_edge_labels(yr, rng, col_px[0][0] / W)
        annotations.append(dict(text="λ (nm)", x=sum(col_px[j]) / 2 / W, y=1 - s["xlabel_y"] / H,
                                xref="paper", yref="paper", showarrow=False, font=tick_font,
                                xanchor="center", yanchor="middle"))

    # ---------------- headers and axis titles
    annotations.append(dict(text=nbsp(s["title"]), x=623 / W, y=1 - s["title_y"] / H,
                            xref="paper", yref="paper", showarrow=False, font=title_font,
                            xanchor="center", yanchor="middle"))
    annotations.append(dict(text=nbsp(s["subtitle"]), x=623 / W, y=1 - s["subtitle_y"] / H,
                            xref="paper", yref="paper", showarrow=False, font=title_font,
                            xanchor="center", yanchor="middle"))
    fy0, fy1 = s["flux_px"]
    annotations.append(dict(text="Normalized flux", x=31 / W, y=1 - (fy0 + fy1) / 2 / H,
                            xref="paper", yref="paper", showarrow=False, font=tick_font,
                            textangle=-90, xanchor="center", yanchor="middle"))
    ey0, ey1 = s["exc_px"]
    annotations.append(dict(text="Excess flux", x=15 / W, y=1 - (ey0 + ey1) / 2 / H,
                            xref="paper", yref="paper", showarrow=False, font=side_font,
                            textangle=-90, xanchor="center", yanchor="middle"))

fig.update_layout(width=W, height=H, margin=dict(l=0, r=0, t=0, b=0),
                  paper_bgcolor="white", plot_bgcolor="white", showlegend=False,
                  annotations=annotations, **layout)

# drop the browser's default 8px body margin so the page is exactly the figure
fig.write_html("out.html", config={"displayModeBar": False},
               post_script="document.body.style.margin='0';document.body.style.overflow='hidden';")
